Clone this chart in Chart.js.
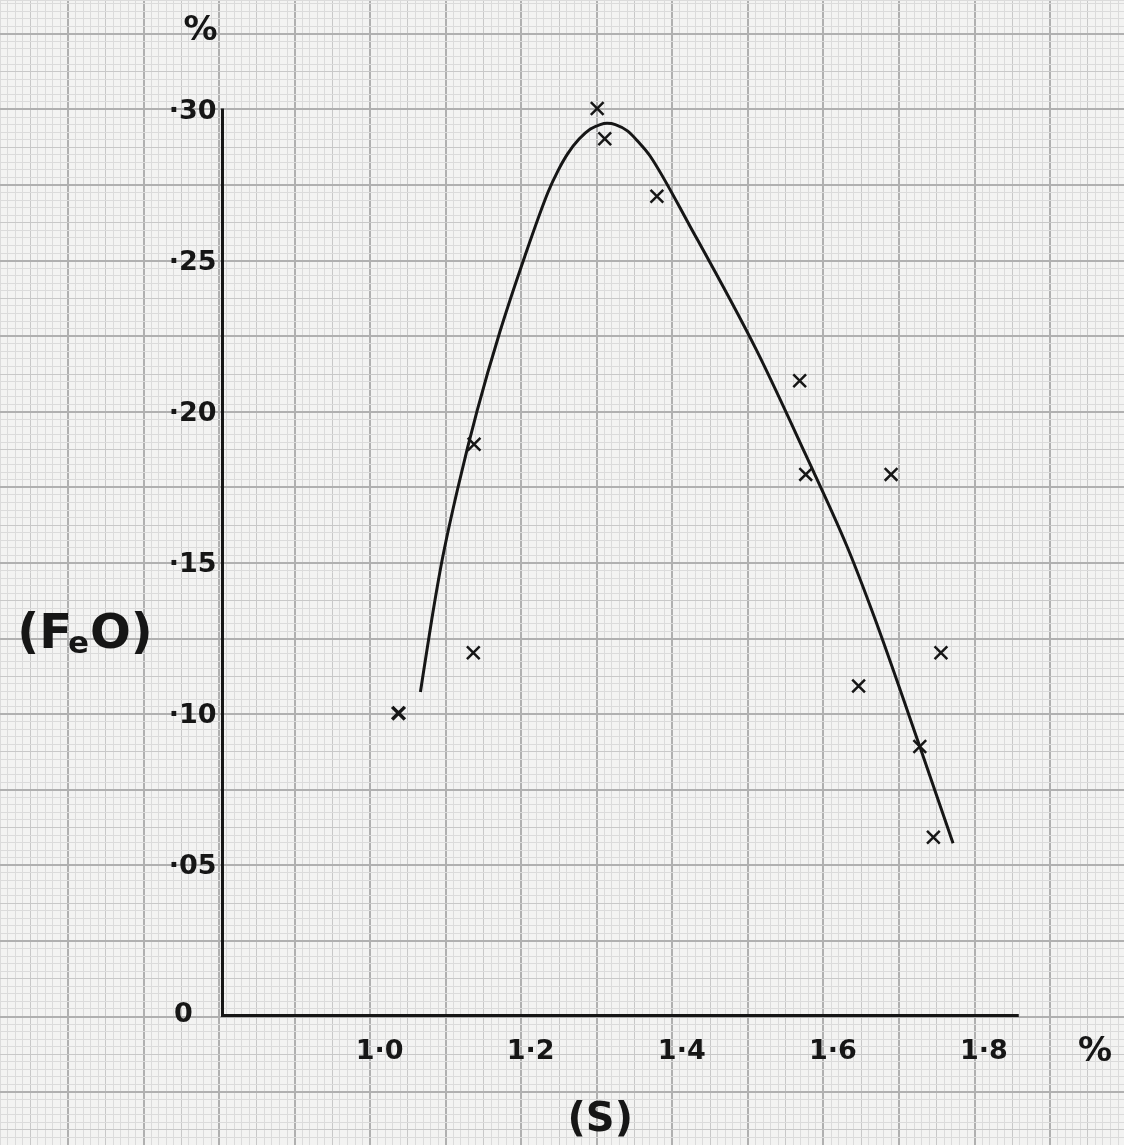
<!DOCTYPE html>
<html>
<head>
<meta charset="utf-8">
<script src="https://cdn.jsdelivr.net/npm/chart.js@4.4.1/dist/chart.umd.min.js"></script>
<style>
  html, body { margin: 0; padding: 0; background: #f3f3f2; }
  #wrap { width: 1124px; height: 1145px; position: relative; }
</style>
</head>
<body>
<div id="wrap"><canvas id="myChart"></canvas></div>
<script>
// measured points, (S) % across, (FeO) % up
const sulphur = [1.033, 1.133, 1.132, 1.296, 1.306, 1.375, 1.564, 1.572, 1.685, 1.642, 1.751, 1.723, 1.741];
const feo     = [0.100, 0.189, 0.120, 0.300, 0.290, 0.271, 0.210, 0.179, 0.179, 0.109, 0.120, 0.089, 0.059];

const curveS   = [1.062, 1.077, 1.091, 1.112, 1.137, 1.167, 1.200, 1.231, 1.244, 1.257, 1.272, 1.287, 1.300, 1.309, 1.320, 1.336, 1.350, 1.366, 1.419, 1.507, 1.571, 1.627, 1.664, 1.723, 1.767];
const curveFeO = [0.107, 0.131, 0.151, 0.175, 0.200, 0.226, 0.251, 0.2724, 0.2794, 0.2851, 0.2899, 0.2932, 0.2947, 0.2951, 0.2947, 0.2926, 0.2891, 0.2843, 0.261, 0.220, 0.186, 0.155, 0.131, 0.089, 0.057];

const xTicks = [1.0, 1.2, 1.4, 1.6, 1.8];
const xTickLabels = ['1·0', '1·2', '1·4', '1·6', '1·8'];
const yTicks = [0, 0.05, 0.10, 0.15, 0.20, 0.25, 0.30];
const yTickLabels = ['0', '·05', '·10', '·15', '·20', '·25', '·30'];

// the inked axes
const axisStart = 0.8;
const axisEnd = 1.854;
const axisTop = 0.30;

const ink = '#161616';

// graph paper: fine line every step, heavier every 5, heaviest every 10
function paperColor(n) {
  if (n % 10 === 0) return '#b0b0b0';
  if (n % 5 === 0) return '#c8c8c8';
  return '#dbdbdb';
}
function paperWidth(n) {
  if (n % 10 === 0) return 2;
  return 1;
}

const paperText = {
  id: 'paperText',
  afterDraw(chart) {
    const {ctx, scales: {x, y}} = chart;
    const x0 = x.getPixelForValue(axisStart);
    const y0 = y.getPixelForValue(0);
    ctx.save();
    ctx.fillStyle = ink;
    ctx.textBaseline = 'middle';

    ctx.font = 'bold 27px "DejaVu Sans"';
    ctx.textAlign = 'center';
    xTicks.forEach((v, i) => {
      ctx.fillText(xTickLabels[i], x.getPixelForValue(v) + 6, y0 + 36);
    });

    yTicks.forEach((v, i) => {
      if (yTickLabels[i] === '0') {
        ctx.textAlign = 'center';
        ctx.fillText(yTickLabels[i], x0 - 39, y.getPixelForValue(v) - 1);
      } else {
        ctx.textAlign = 'right';
        ctx.fillText(yTickLabels[i], x0 - 6, y.getPixelForValue(v) + 3);
      }
    });

    ctx.font = 'bold 34px "DejaVu Sans"';
    ctx.textAlign = 'center';
    ctx.fillText('%', x0 - 22, y.getPixelForValue(axisTop) - 77);
    ctx.fillText('%', x.getPixelForValue(1.8) + 117, y0 + 37);

    // (S) under the x axis
    ctx.font = 'bold 40px "DejaVu Sans"';
    ctx.fillText('(S)', x.getPixelForValue(1.3), y0 + 105);

    // (FeO) with the small e
    const big = 'bold 48px "DejaVu Sans"';
    const small = 'bold 31px "DejaVu Sans"';
    ctx.font = big;
    const w1 = ctx.measureText('(F').width;
    const w3 = ctx.measureText('O)').width;
    ctx.font = small;
    const w2 = ctx.measureText('e').width;
    let tx = x0 - 136 - (w1 + w2 + w3) / 2;
    const ty = y0 - 380;
    ctx.textAlign = 'left';
    ctx.font = big;
    ctx.fillText('(F', tx, ty);
    tx += w1 - 4;
    ctx.font = small;
    ctx.fillText('e', tx, ty + 9);
    tx += w2 + 1;
    ctx.font = big;
    ctx.fillText('O)', tx, ty);
    ctx.restore();
  }
};

const data = {
  datasets: [
    {
      type: 'line',
      data: [{x: axisStart, y: axisTop}, {x: axisStart, y: 0}, {x: axisEnd, y: 0}],
      borderColor: ink,
      borderWidth: 3,
      pointRadius: 0,
      tension: 0
    },
    {
      type: 'line',
      data: curveS.map((s, i) => ({x: s, y: curveFeO[i]})),
      borderColor: ink,
      borderWidth: 3,
      pointRadius: 0,
      cubicInterpolationMode: 'monotone'
    },
    {
      type: 'scatter',
      data: sulphur.map((s, i) => ({x: s, y: feo[i]})),
      pointStyle: 'crossRot',
      pointRadius: 9,
      borderColor: ink,
      borderWidth: (c) => (c.dataIndex === 0 ? 3.5 : 2.5)
    }
  ]
};

const config = {
  type: 'scatter',
  data: data,
  options: {
    responsive: true,
    maintainAspectRatio: false,
    animation: false,
    events: [],
    layout: {padding: 0, autoPadding: false},
    plugins: {legend: {display: false}, tooltip: {enabled: false}},
    scales: {
      x: {
        type: 'linear',
        min: 0.5055,
        max: 1.9933,
        bounds: 'data',
        border: {display: false},
        ticks: {display: false, stepSize: 0.01, includeBounds: false},
        grid: {
          drawTicks: false,
          color: (c) => paperColor(Math.round(c.tick.value * 100)),
          lineWidth: (c) => paperWidth(Math.round(c.tick.value * 100))
        }
      },
      y: {
        type: 'linear',
        min: -0.0428,
        max: 0.3359,
        bounds: 'data',
        border: {display: false},
        ticks: {display: false, stepSize: 0.0025, includeBounds: false},
        grid: {
          drawTicks: false,
          color: (c) => paperColor(Math.round(c.tick.value * 400)),
          lineWidth: (c) => paperWidth(Math.round(c.tick.value * 400))
        }
      }
    }
  },
  plugins: [paperText]
};

const myChart = new Chart(document.getElementById('myChart'), config);
</script>
</body>
</html>
